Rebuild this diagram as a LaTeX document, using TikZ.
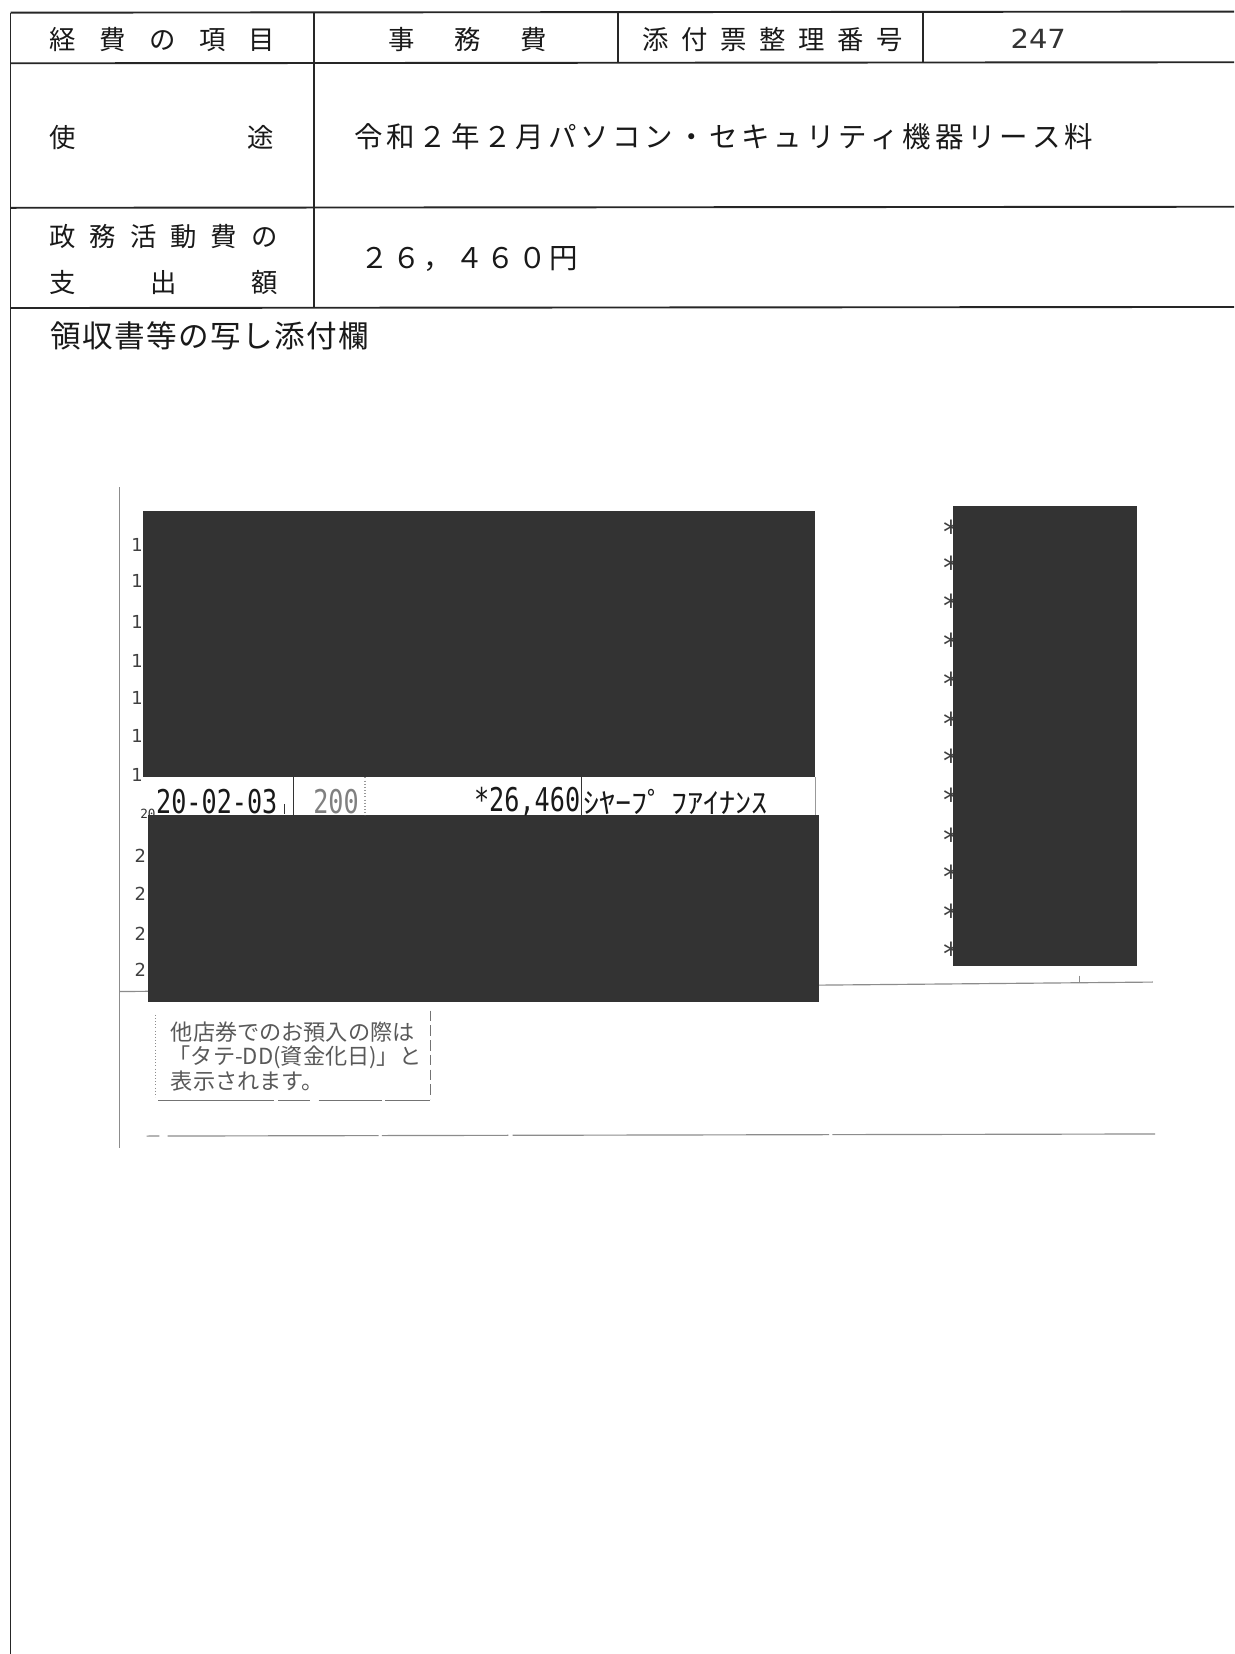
\documentclass[tikz,border=0pt]{standalone}
\usepackage{fontspec}
\usepackage{graphicx}
\newfontfamily\jp{Noto Sans CJK JP}
\newfontfamily\mono{DejaVu Sans Mono}
\newfontfamily\dsans{DejaVu Sans}
\tikzset{
  rule/.style={line width=1.8pt, black!85},
  hdr/.style={font=\jp\fontsize{25}{25}\selectfont, anchor=west, text=black!90},
  big/.style={font=\jp\fontsize{27}{27}\selectfont, anchor=west, text=black!90},
  strip/.style={font=\mono\fontsize{31}{31}\selectfont, text=black!90},
  kana/.style={font=\jp\fontsize{27}{27}\selectfont, anchor=west, text=black!90},
  num/.style={font=\dsans\fontsize{17}{17}\selectfont, text=black!75},
  ast/.style={font=\dsans\fontsize{30}{30}\selectfont, text=black!75},
  note/.style={font=\jp\fontsize{21}{21}\selectfont, anchor=west, text=black!65},
  redact/.style={fill=black!80},
  faint/.style={line width=1.1pt, black!45},
}
\begin{document}
\begin{tikzpicture}[x=1pt,y=-1pt, every node/.style={inner sep=0pt, outer sep=0pt}]
\useasboundingbox (0,0) rectangle (1170,1568);
\fill[white] (0,0) rectangle (1170,1568);

% ---------- table rules ----------
\draw[rule] (10,12) -- (1170,11);
\draw[rule] (10,60) -- (1170,59);
\draw[rule] (10,197) -- (1170,196);
\draw[rule] (10,292) -- (1170,291);
\draw[rule] (10,12) -- (10,1568);
\draw[rule] (298,12) -- (298,292);
\draw[rule] (586,12) -- (586,60);
\draw[rule] (875,12) -- (875,60);

% ---------- table texts ----------
\node[hdr] (kh) at (47,37) {\makebox[214pt][s]{経\hfill 費\hfill の\hfill 項\hfill 目}};
\node[hdr] (jm) at (368,37) {\makebox[150pt][s]{事\hfill 務\hfill 費}};
\node[hdr] (tf) at (609,37) {\makebox[247pt][s]{添\hfill 付\hfill 票\hfill 整\hfill 理\hfill 番\hfill 号}};
\node[font=\dsans\fontsize{25}{25}\selectfont, text=black!80, anchor=west] (no) at (958,37) {\scalebox{1.1}[1]{247}};
\node[hdr] (sy1) at (47,130) {使};
\node[hdr] (sy2) at (235,130) {途};
\node[big] (yt) at (336,130) {\makebox[700pt][s]{令\hfill 和\hfill ２\hfill 年\hfill ２\hfill 月\hfill パ\hfill ソ\hfill コ\hfill ン\hfill ・\hfill セ\hfill キ\hfill ュ\hfill リ\hfill テ\hfill ィ\hfill 機\hfill 器\hfill リ\hfill ー\hfill ス\hfill 料}};
\node[hdr] (sk1) at (47,224) {\makebox[216pt][s]{政\hfill 務\hfill 活\hfill 動\hfill 費\hfill の}};
\node[hdr] (sk2) at (47,268) {\makebox[216pt][s]{支\hfill 出\hfill 額}};
\node[big] (amt) at (342,246) {\makebox[206pt][s]{２\hfill ６\hfill ，\hfill ４\hfill ６\hfill ０\hfill 円}};
\node[font=\jp\fontsize{29}{29}\selectfont, anchor=west, text=black!90] (ry) at (48,318) {\makebox[302pt][s]{領\hfill 収\hfill 書\hfill 等\hfill の\hfill 写\hfill し\hfill 添\hfill 付\hfill 欄}};

% ---------- receipt frame lines ----------
\draw[faint] (113,462) -- (113,1088);
\draw[faint] (113,940) -- (1093,931);
\draw[faint] (1023,925) -- (1023,931);
\draw[faint, dash pattern=on 12pt off 8pt on 200pt off 3pt on 120pt off 4pt on 300pt off 3pt on 400pt off 2pt] (139,1077) -- (1095,1075);

% left row numbers (partly hidden)
\foreach \yy in {517,551,590,627,662,698,735} \node[num] at (130,\yy) {1};
\foreach \yy in {811,847,885,919} \node[num] at (133,\yy) {2};

% right asterisks (partly hidden)
\foreach \yy in {498,532,568,605,642,680,715,752,790,825,862,898} \node[ast] at (902,\yy+6) {*};

% redaction boxes
\fill[redact] (136,484) rectangle (773,737);
\fill[redact] (140,773) rectangle (776,950);
\fill[redact] (903,480) rectangle (1078,916);

% ---------- visible strip ----------
\node[font=\mono\fontsize{12}{12}\selectfont, text=black!80, anchor=west] (s20) at (133,772) {20};
\node[strip, anchor=west] (dt) at (148,760) {\scalebox{0.77}[1]{20-02-03}};
\draw[line width=1pt, black!80] (270,762) -- (270,772);
\draw[line width=1.2pt, black!80] (278,737) -- (278,773);
\node[strip, anchor=west, text=black!50] (v200) at (297,760) {\scalebox{0.77}[1]{200}};
\draw[line width=1pt, black!40, dotted] (346,737) -- (346,773);
\node[strip, anchor=east] (am) at (550,760) {\scalebox{0.77}[1]{*26,460}};
\draw[line width=1.2pt, black!80] (551,737) -- (551,773);
\node[kana] (nm) at (553,760) {\scalebox{1.13}[1]{ｼﾔｰﾌﾟ ﾌｱｲﾅﾝｽ}};
\draw[line width=1pt, black!40] (773,737) -- (773,773);

% ---------- note box ----------
\draw[line width=1pt, black!45, dotted] (147,962) -- (147,1040);
\draw[line width=1pt, black!55, dash pattern=on 10pt off 4pt] (408,958) -- (408,1042);
\draw[line width=1.2pt, black!55, dash pattern=on 110pt off 4pt on 30pt off 8pt on 60pt off 3pt] (150,1043) -- (408,1043);
\node[note] (n1) at (162,978) {他店券でのお預入の際は};
\node[note] (n2) at (160,1002) {「タテ-DD(資金化日)」と};
\node[note] (n3) at (162,1025) {表示されます。};
\end{tikzpicture}
\end{document}
